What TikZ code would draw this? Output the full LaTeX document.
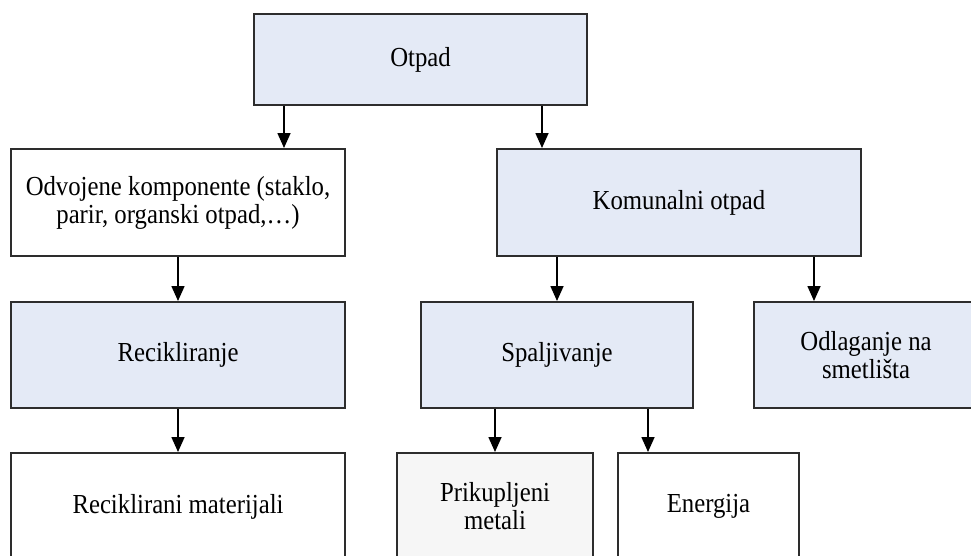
\documentclass[tikz,border=0pt]{standalone}
\usepackage{fontspec}
\setmainfont[FakeStretch=0.9]{Liberation Serif}
\usetikzlibrary{arrows.meta,calc}
\definecolor{boxblue}{RGB}{228,234,246}
\definecolor{boxgray}{RGB}{246,246,246}
\definecolor{edge}{RGB}{45,45,45}
\tikzset{
  box/.style={draw=edge, line width=2pt, rectangle, align=center, inner sep=0pt,
    font=\fontsize{27.5}{28}\selectfont},
  arr/.style={draw=black, line width=1.6pt, -{Triangle[length=15pt,width=13pt]}}
}
\begin{document}
\begin{tikzpicture}[x=1pt,y=-1pt]
\useasboundingbox (0,0) rectangle (971,555);
\fill[white] (0,0) rectangle (971,555);
\clip (0,0) rectangle (971,555);
\node[box, fill=boxblue, minimum width=333pt, minimum height=91pt] (otpad) at (420.5,59.5) {Otpad};
\node[box, fill=white, minimum width=334pt, minimum height=107pt] (odv) at (178,202.5) {Odvojene komponente (staklo,\\parir, organski otpad,…)};
\node[box, fill=boxblue, minimum width=364pt, minimum height=107pt] (kom) at (679,202.5) {Komunalni otpad};
\node[box, fill=boxblue, minimum width=334pt, minimum height=106pt] (rec) at (178,355) {Recikliranje};
\node[box, fill=boxblue, minimum width=272pt, minimum height=106pt] (spa) at (557,355) {Spaljivanje};
\node[box, fill=boxblue, minimum width=224pt, minimum height=106pt] (odl) at (866,355) {Odlaganje na\\smetlišta};
\node[box, fill=white, minimum width=334pt, minimum height=107pt] (recm) at (178,506.5) {Reciklirani materijali};
\node[box, fill=boxgray, minimum width=196pt, minimum height=107pt] (pri) at (495,506.5) {Prikupljeni\\metali};
\node[box, fill=white, minimum width=181pt, minimum height=107pt] (ene) at (708.5,506.5) {Energija};
\coordinate (c1) at (284,0);
\coordinate (c2) at (542,0);
\coordinate (c3) at (178,0);
\coordinate (c4) at (557,0);
\coordinate (c5) at (814,0);
\coordinate (c6) at (495,0);
\coordinate (c7) at (648,0);
\draw[arr] (otpad.south -| c1) -- (odv.north -| c1);
\draw[arr] (otpad.south -| c2) -- (kom.north -| c2);
\draw[arr] (odv.south -| c3) -- (rec.north -| c3);
\draw[arr] (kom.south -| c4) -- (spa.north -| c4);
\draw[arr] (kom.south -| c5) -- (odl.north -| c5);
\draw[arr] (rec.south -| c3) -- (recm.north -| c3);
\draw[arr] (spa.south -| c6) -- (pri.north -| c6);
\draw[arr] (spa.south -| c7) -- (ene.north -| c7);
\end{tikzpicture}
\end{document}
